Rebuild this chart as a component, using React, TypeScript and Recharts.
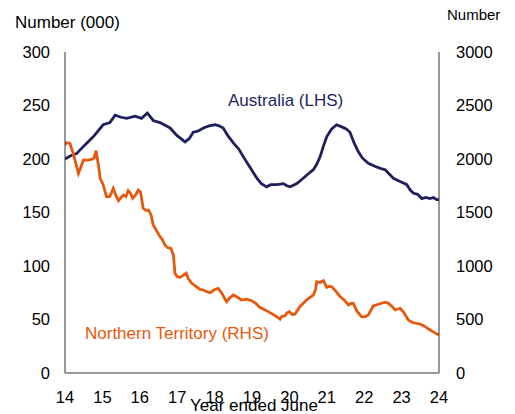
import React from 'react'
import { LineChart, Line, XAxis, YAxis } from 'recharts'

// Australia (LHS, thousands)
const ausYears = [
  14.0, 14.15, 14.31, 14.5, 14.76, 15.02, 15.2, 15.34, 15.5, 15.65, 15.87, 16.05, 16.2, 16.36,
  16.54, 16.81, 16.99, 17.1, 17.21, 17.32, 17.43, 17.55, 17.7, 17.85, 18.01, 18.12, 18.23,
  18.35, 18.5, 18.65, 18.77, 18.95, 19.13, 19.25, 19.39, 19.5, 19.66, 19.84, 19.93, 20.02,
  20.2, 20.37, 20.5, 20.64, 20.73, 20.82, 20.91, 21.0, 21.13, 21.26, 21.4, 21.52, 21.62,
  21.73, 21.84, 21.95, 22.11, 22.3, 22.45, 22.56, 22.67, 22.78, 22.96, 23.14, 23.23, 23.32,
  23.43, 23.54, 23.65, 23.76, 23.85, 23.94, 24.0,
]
const ausValues = [
  200, 203, 205, 212, 221, 232, 234, 241, 239, 238, 240, 238, 243, 236,
  234, 229, 222, 219, 216, 219, 225, 226, 229, 231, 232, 231, 229,
  222, 215, 209, 202, 192, 182, 177, 174, 176, 176, 177, 175, 174,
  177, 182, 186, 190, 195, 202, 212, 221, 228, 232, 230, 228, 225,
  215, 207, 201, 196, 193, 191, 190, 186, 182, 179, 176, 171, 168,
  167, 163, 164, 163, 164, 162, 162,
]

// Northern Territory (RHS, persons)
const ntYears = [
  14.0, 14.03, 14.13, 14.22, 14.36, 14.43, 14.49, 14.6, 14.71, 14.78, 14.83, 14.9, 14.94,
  15.02, 15.11, 15.2, 15.29, 15.36, 15.43, 15.5, 15.56, 15.63, 15.69, 15.75, 15.81, 15.88,
  15.96, 16.02, 16.09, 16.16, 16.23, 16.3, 16.36, 16.45, 16.54, 16.6, 16.67, 16.75, 16.83,
  16.9, 16.94, 17.0, 17.07, 17.15, 17.24, 17.3, 17.39, 17.5, 17.61, 17.7, 17.79, 17.88,
  18.0, 18.1, 18.2, 18.32, 18.4, 18.5, 18.6, 18.72, 18.85, 18.99, 19.1, 19.21, 19.35,
  19.48, 19.6, 19.75, 19.8, 19.88, 19.93, 20.0, 20.08, 20.15, 20.28, 20.45, 20.64, 20.7,
  20.73, 20.82, 20.91, 21.0, 21.05, 21.13, 21.25, 21.36, 21.47, 21.58, 21.65, 21.71, 21.8,
  21.93, 22.02, 22.11, 22.24, 22.4, 22.56, 22.65, 22.75, 22.83, 22.96, 23.05, 23.18, 23.3,
  23.49, 23.6, 23.76, 23.87, 23.94, 24.0,
]
const ntValues = [
  2130, 2152, 2147, 2050, 1866, 1930, 1990, 1990, 1997, 2010, 2078, 1930, 1820,
  1760, 1648, 1650, 1726, 1660, 1610, 1640, 1664, 1650, 1704, 1680, 1633, 1660,
  1710, 1690, 1539, 1520, 1523, 1480, 1383, 1330, 1274, 1250, 1196, 1170, 1165,
  1100, 932, 900, 894, 910, 932, 880, 838, 810, 782, 776, 760, 750,
  780, 791, 740, 666, 700, 729, 710, 682, 690, 676, 650, 614, 590,
  564, 540, 502, 530, 533, 560, 573, 545, 551, 620, 680, 729, 780,
  853, 845, 863, 801, 810, 807, 760, 713, 680, 636, 650, 651, 580,
  526, 525, 542, 626, 645, 661, 651, 620, 589, 605, 570, 495, 470,
  458, 440, 402, 380, 364, 358,
]

const yearTicks = [14, 15, 16, 17, 18, 19, 20, 21, 22, 23, 24]
const leftTicks = [0, 50, 100, 150, 200, 250, 300]
const rightTicks = [0, 500, 1000, 1500, 2000, 2500, 3000]

const ausData = ausYears.map((year, i) => ({ year, value: ausValues[i] }))
const ntData = ntYears.map((year, i) => ({ year, value: ntValues[i] }))

const FONT = '"Liberation Sans", Arial, sans-serif'
const NAVY = '#1f1f5e'
const ORANGE = '#e8580c'
const tickStyle = { fill: '#000', fontSize: 16.5, fontFamily: FONT }

const label = (text: string, left: number, top: number, color = '#000', size = 17, center = false) => (
  <div
    style={{
      position: 'absolute',
      left,
      top,
      fontFamily: FONT,
      fontSize: size,
      lineHeight: '20px',
      color,
      whiteSpace: 'nowrap',
      transform: center ? 'translateX(-50%)' : undefined,
    }}
  >
    {text}
  </div>
)

export default function App() {
  return (
    <div style={{ position: 'absolute', left: 0, top: 0, width: 515, height: 414, overflow: 'hidden', background: '#fff' }}>
      <LineChart width={515} height={414} margin={{ top: 52, right: 0, bottom: 21, left: 0 }}>
        <XAxis
          dataKey="year"
          type="number"
          domain={[14, 24]}
          ticks={yearTicks}
          allowDataOverflow
          tickLine={false}
          tickSize={0}
          tickMargin={18}
          height={20}
          axisLine={{ stroke: '#333' }}
          tick={tickStyle}
          interval={0}
        />
        <YAxis
          yAxisId="left"
          orientation="left"
          domain={[0, 300]}
          ticks={leftTicks}
          width={65}
          tickLine={false}
          tickSize={0}
          tickMargin={15}
          axisLine={{ stroke: '#333' }}
          tick={tickStyle}
          interval={0}
        />
        <YAxis
          yAxisId="right"
          orientation="right"
          domain={[0, 3000]}
          ticks={rightTicks}
          width={76}
          tickLine={false}
          tickSize={0}
          tickMargin={17}
          axisLine={{ stroke: '#333' }}
          tick={tickStyle}
          interval={0}
        />
        <Line
          data={ausData}
          dataKey="value"
          yAxisId="left"
          stroke={NAVY}
          strokeWidth={2.8}
          dot={false}
          type="linear"
          isAnimationActive={false}
        />
        <Line
          data={ntData}
          dataKey="value"
          yAxisId="right"
          stroke={ORANGE}
          strokeWidth={2.8}
          dot={false}
          type="linear"
          isAnimationActive={false}
        />
      </LineChart>
      {label('Number (000)', 15, 13)}
      {label('Number', 447, 5, '#000', 15)}
      {label('Australia (LHS)', 228, 91, NAVY)}
      {label('Northern Territory (RHS)', 85, 324, ORANGE)}
      {label('Year ended June', 254, 396, '#000', 17, true)}
    </div>
  )
}
